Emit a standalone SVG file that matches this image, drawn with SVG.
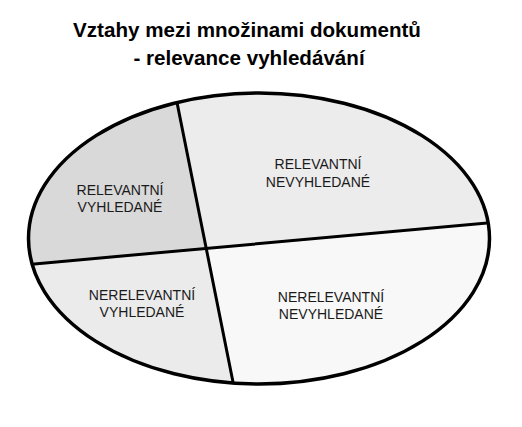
<svg xmlns="http://www.w3.org/2000/svg" width="522" height="427" viewBox="0 0 522 427">
  <style>
    .title { font-family: "Liberation Sans", Arial, sans-serif; font-weight: bold; font-size: 20.6px; fill: #000; text-anchor: middle; }
    .lbl { font-family: "Liberation Sans", Arial, sans-serif; font-size: 14px; fill: #1a1a1a; text-anchor: middle; }
    .div { stroke: #000; stroke-width: 3; fill: none; stroke-linecap: round; }
  </style>
  <defs>
    <clipPath id="ell">
      <ellipse cx="259" cy="238.5" rx="230.5" ry="145.5"/>
    </clipPath>
  </defs>
  <rect width="522" height="427" fill="#ffffff"/>
  <g id="title">
    <text class="title" x="247" y="37">Vztahy mezi množinami dokumentů</text>
    <text class="title" x="249" y="65">- relevance vyhledávání</text>
  </g>
  <g clip-path="url(#ell)">
    <g id="relevantni-vyhledane">
      <polygon points="20,80 172.5,80 206,249 20,265.2" fill="#d9d9d9"/>
    </g>
    <g id="relevantni-nevyhledane">
      <polygon points="172.5,80 500,80 500,221.9 206,249" fill="#ececec"/>
    </g>
    <g id="nerelevantni-vyhledane">
      <polygon points="20,265.2 206,249 236.6,400 20,400" fill="#ebebeb"/>
    </g>
    <g id="nerelevantni-nevyhledane">
      <polygon points="206,249 500,221.9 500,400 236.6,400" fill="#f8f8f8"/>
    </g>
    <g id="connectors">
      <line class="div" x1="172.5" y1="80" x2="236.6" y2="400"/>
      <line class="div" x1="20" y1="265.2" x2="500" y2="221.9"/>
    </g>
  </g>
  <ellipse cx="259" cy="238.5" rx="230.5" ry="145.5" fill="none" stroke="#000" stroke-width="3.5"/>
  <g id="labels">
    <text class="lbl" x="120" y="195">RELEVANTNÍ</text>
    <text class="lbl" x="120" y="212">VYHLEDANÉ</text>
    <text class="lbl" x="318" y="169">RELEVANTNÍ</text>
    <text class="lbl" x="318" y="187">NEVYHLEDANÉ</text>
    <text class="lbl" x="142" y="300">NERELEVANTNÍ</text>
    <text class="lbl" x="142" y="317">VYHLEDANÉ</text>
    <text class="lbl" x="331" y="302">NERELEVANTNÍ</text>
    <text class="lbl" x="331" y="319">NEVYHLEDANÉ</text>
  </g>
</svg>
